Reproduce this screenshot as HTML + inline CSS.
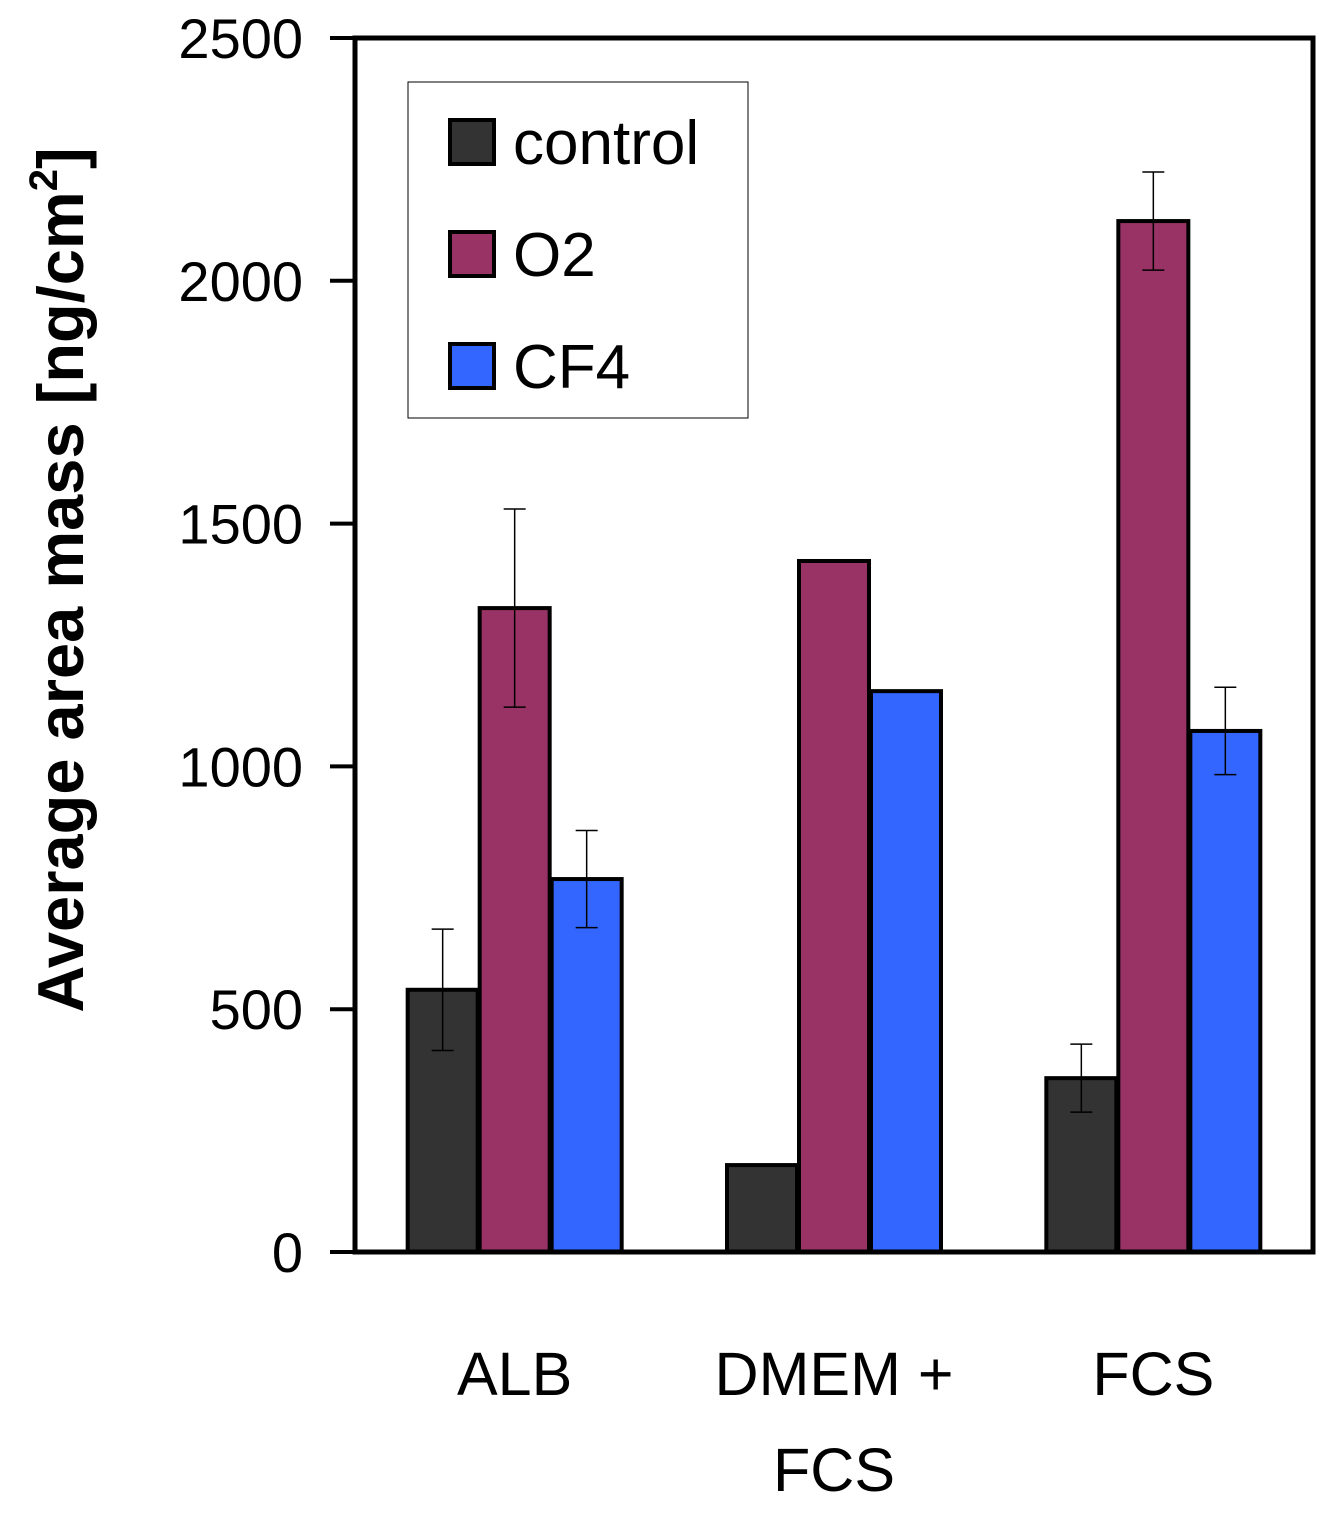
<!DOCTYPE html>
<html><head><meta charset="utf-8"><style>
html,body{margin:0;padding:0;background:#fff;}
svg{display:block;font-family:"Liberation Sans",sans-serif;}
</style></head><body>
<svg id="chart" width="1329" height="1522" viewBox="0 0 1329 1522"></svg>
<script>
const categories = ["ALB", "DMEM +|FCS", "FCS"];
const seriesNames = ["control", "O2", "CF4"];
const seriesColors = ["#333333", "#993366", "#3366FF"];
const controlValues = [540, 179, 358];
const o2Values = [1326, 1423, 2123];
const cf4Values = [768, 1155, 1073];
const controlErr = [125, null, 70];
const o2Err = [204, null, 101];
const cf4Err = [100, null, 90];
const yTicks = [0, 500, 1000, 1500, 2000, 2500];

const NS = "http://www.w3.org/2000/svg";
const svg = document.getElementById("chart");
const L = 355, R = 1313, T = 38, B = 1252, yMax = 2500;
const y = v => B - (B - T) * v / yMax;
const catW = (R - L) / categories.length;
const barW = 72;
const x = (ci, si) => L + catW * ci + (catW - 3 * barW) / 2 + si * barW + 1;
function mk(tag, attrs, parent) {
  const e = document.createElementNS(NS, tag);
  for (const k in attrs) e.setAttribute(k, attrs[k]);
  (parent || svg).appendChild(e);
  return e;
}
const values = [controlValues, o2Values, cf4Values];
const errs = [controlErr, o2Err, cf4Err];

values.forEach((vals, si) => {
  vals.forEach((v, ci) => {
    const r = mk("rect", {x: x(ci, si), y: y(v), width: barW - 2, height: B - y(v), fill: seriesColors[si], stroke: "#000", "stroke-width": 4});
    
    
  });
});
errs.forEach((ev, si) => {
  ev.forEach((e, ci) => {
    if (e == null) return;
    const v = values[si][ci];
    const cx = x(ci, si) + (barW - 2) / 2;
    const g = mk("g", {stroke: "#000", "stroke-width": 1.5});
    
    
    mk("line", {x1: cx, x2: cx, y1: y(v + e), y2: y(v - e)}, g);
    mk("line", {x1: cx - 11, x2: cx + 11, y1: y(v + e), y2: y(v + e)}, g);
    mk("line", {x1: cx - 11, x2: cx + 11, y1: y(v - e), y2: y(v - e)}, g);
  });
});
const fr = mk("rect", {x: L, y: T, width: R - L, height: B - T, fill: "none", stroke: "#000", "stroke-width": 5});


yTicks.forEach(t => {
  const ln = mk("line", {x1: 330, x2: L, y1: y(t), y2: y(t), stroke: "#000", "stroke-width": 4});
  
  
  const tx = mk("text", {x: 303, y: y(t) + 20, "text-anchor": "end", "font-size": 56});
  tx.textContent = t;
  
  
});
categories.forEach((c, ci) => {
  const cx = L + catW * (ci + 0.5);
  c.split("|").forEach((line, li) => {
    const tx = mk("text", {x: cx, y: 1395 + li * 96, "text-anchor": "middle", "font-size": 61});
    tx.textContent = line;
    
    
  });
});
const yt = mk("text", {transform: "translate(83,580) rotate(-90)", "text-anchor": "middle", "font-size": 65, "font-weight": "bold"});
yt.innerHTML = 'Average area mass [ng/cm<tspan dy="-26" font-size="40">2</tspan><tspan dy="26">]</tspan>';


const lg = mk("g", {});


mk("rect", {x: 408, y: 82, width: 340, height: 336, fill: "#fff", stroke: "#000", "stroke-width": 1}, lg);
seriesNames.forEach((n, i) => {
  const g = mk("g", {}, lg);
  
  
  mk("rect", {x: 450, y: 120 + i * 112, width: 44, height: 44, fill: seriesColors[i], stroke: "#000", "stroke-width": 4}, g);
  const t = mk("text", {x: 513, y: 164 + i * 112, "font-size": 62}, g);
  t.textContent = n;
});
</script>
</body></html>
